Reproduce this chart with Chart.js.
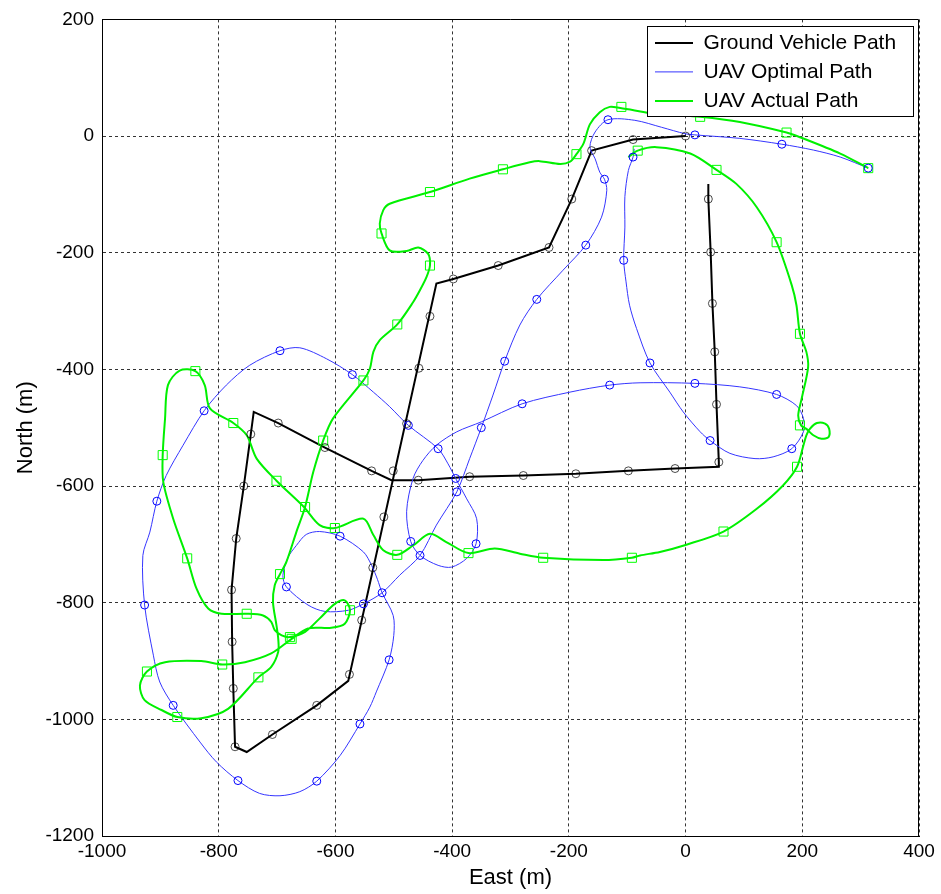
<!DOCTYPE html>
<html>
<head>
<meta charset="utf-8">
<script src="https://cdn.jsdelivr.net/npm/chart.js@4.4.1/dist/chart.umd.min.js"></script>
<style>
  html, body { margin: 0; padding: 0; background: #fff; }
  #wrap { width: 941px; height: 894px; position: relative; }
</style>
</head>
<body>
<div id="wrap"><canvas id="pathChart"></canvas></div>
<script>
// axis ticks (metres)
const eastTicks = [-1000, -800, -600, -400, -200, 0, 200, 400];
const northTicks = [-1200, -1000, -800, -600, -400, -200, 0, 200];

// ground vehicle path
const gvEast  = [0, -90, -161, -195, -234, -321, -398, -427, -578, -632, -708, -752, -772, -775, -777, -778, -770, -757, -745, -740, -698, -618, -538, -504, -458, -370, -278, -188, -98, -18, 57, 57, 53, 50, 46, 43, 39, 39];
const gvNorth = [0, -6, -25, -108, -191, -222, -245, -253, -934, -976, -1026, -1056, -1047, -947, -867, -778, -690, -600, -511, -473, -492, -534, -574, -590, -590, -584, -582, -579, -574, -570, -567, -559, -460, -370, -287, -199, -108, -82];
const gvMarkEast  = [0, -90, -161, -195, -234, -321, -398, -438, -457, -478, -501, -517, -536, -555, -576, -632, -708, -772, -775, -777, -778, -770, -757, -745, -698, -618, -538, -458, -370, -278, -188, -98, -18, 57, 53, 50, 46, 43, 39];
const gvMarkNorth = [0, -6, -25, -108, -191, -222, -245, -309, -398, -493, -574, -653, -740, -830, -923, -976, -1026, -1047, -947, -867, -778, -690, -600, -511, -492, -534, -574, -590, -584, -582, -579, -574, -570, -559, -460, -370, -287, -199, -108];

// UAV optimal path
const optEast  = [313, 265, 219, 165, 93, 16, -1, -41, -87, -133, -155, -164, -155, -147, -139, -135, -144, -171, -210, -255, -284, -310, -330, -350, -370, -392, -427, -455, -490, -520, -552, -578, -618, -647, -684, -690, -681, -667, -650, -627, -592, -552, -538, -528, -520, -501, -500, -508, -530, -541, -558, -592, -632, -661, -695, -730, -767, -804, -832, -878, -901, -912, -927, -930, -918, -906, -890, -861, -825, -787, -747, -695, -661, -615, -571, -535, -507, -475, -424, -407, -394, -375, -358, -359, -375, -401, -424, -455, -471, -478, -467, -450, -427, -392, -350, -280, -198, -130, -78, 16, 93, 156, 190, 202, 202, 182, 150, 119, 76, 42, 25, -4, -27, -61, -84, -96, -102, -106, -104, -104, -98, -90, -88];
const optNorth = [-55, -36, -24, -14, -4, 2, 4, 15, 27, 28, 7, -19, -39, -62, -74, -93, -139, -187, -230, -280, -324, -386, -444, -500, -553, -610, -667, -719, -753, -783, -802, -813, -815, -804, -773, -753, -722, -702, -683, -678, -686, -713, -736, -760, -783, -822, -856, -898, -953, -979, -1008, -1062, -1106, -1124, -1131, -1127, -1105, -1073, -1039, -976, -936, -890, -804, -719, -679, -626, -582, -530, -471, -427, -393, -368, -363, -382, -409, -439, -464, -496, -536, -562, -587, -622, -656, -699, -724, -739, -736, -719, -695, -644, -587, -556, -530, -507, -490, -459, -439, -427, -423, -424, -430, -443, -462, -484, -507, -536, -550, -553, -544, -522, -507, -473, -439, -389, -330, -290, -250, -213, -156, -104, -59, -36, -22];
const optMarkEast  = [313, 165, 16, -133, -139, -171, -255, -310, -350, -392, -455, -520, -552, -684, -592, -508, -558, -632, -767, -878, -927, -906, -825, -695, -571, -475, -424, -394, -359, -471, -280, -130, 16, 156, 182, 42, -61, -106, -90];
const optMarkNorth = [-55, -14, 2, 28, -74, -187, -280, -386, -500, -610, -719, -783, -802, -773, -686, -898, -1008, -1106, -1105, -976, -804, -626, -471, -368, -409, -496, -536, -587, -699, -695, -459, -427, -424, -443, -536, -522, -389, -213, -36];

// UAV actual path
const actEast  = [313, 265, 196, 173, 93, 25, -21, -53, -87, -112, -130, -147, -164, -175, -187, -198, -215, -250, -267, -313, -370, -438, -507, -518, -524, -521, -507, -478, -458, -441, -438, -444, -455, -467, -494, -524, -535, -541, -552, -604, -621, -638, -652, -667, -684, -695, -704, -707, -701, -698, -698, -710, -732, -784, -830, -871, -898, -927, -935, -923, -892, -830, -794, -755, -710, -675, -647, -607, -584, -575, -584, -601, -624, -652, -678, -692, -704, -710, -724, -752, -795, -818, -838, -854, -878, -895, -896, -892, -887, -867, -840, -824, -815, -775, -752, -735, -701, -654, -627, -601, -552, -535, -518, -494, -467, -438, -410, -372, -327, -284, -244, -141, -92, -78, -44, 0, 65, 122, 167, 191, 202, 207, 213, 225, 239, 246, 245, 233, 219, 207, 198, 193, 199, 210, 207, 196, 190, 182, 156, 122, 87, 53, 8, -50, -82, -98];
const actNorth = [-55, -30, -2, 6, 24, 33, 36, 38, 44, 48, 50, 41, 20, -13, -31, -44, -48, -43, -45, -57, -73, -96, -116, -127, -150, -167, -196, -197, -191, -202, -222, -242, -264, -285, -323, -350, -370, -399, -419, -484, -522, -576, -636, -679, -730, -751, -770, -799, -839, -862, -884, -910, -928, -982, -998, -996, -984, -967, -942, -918, -902, -900, -906, -902, -887, -862, -844, -843, -836, -813, -796, -802, -824, -850, -859, -856, -847, -833, -822, -819, -819, -810, -776, -724, -656, -593, -547, -485, -427, -402, -403, -427, -467, -492, -513, -553, -591, -636, -667, -672, -656, -684, -710, -718, -702, -682, -696, -715, -707, -716, -723, -727, -723, -719, -713, -701, -678, -639, -599, -567, -530, -513, -502, -492, -493, -502, -516, -519, -513, -502, -496, -479, -450, -396, -370, -339, -290, -256, -182, -122, -82, -58, -30, -19, -25, -36];
const actMarkEast  = [313, 173, 25, -110, -187, -313, -438, -521, -438, -494, -552, -621, -652, -695, -732, -871, -923, -794, -675, -575, -678, -752, -854, -896, -840, -775, -701, -601, -494, -372, -244, -92, 65, 191, 196, 196, 156, 53, -82];
const actMarkNorth = [-55, 6, 33, 50, -31, -57, -96, -167, -222, -323, -419, -522, -636, -751, -928, -996, -918, -906, -862, -813, -859, -819, -724, -547, -403, -492, -591, -672, -718, -715, -723, -723, -678, -567, -496, -339, -182, -58, -25];

const pts = (xs, ys) => xs.map((x, i) => ({ x: x, y: ys[i] }));
const FONT = "'Liberation Sans', Arial, sans-serif";

function pathSet(label, xs, ys, color, width, tension, order) {
  return {
    label: label, data: pts(xs, ys), showLine: true, borderColor: color,
    backgroundColor: color, borderWidth: width, pointRadius: 0, pointHitRadius: 0,
    tension: tension, order: order, isPath: true
  };
}
function markSet(xs, ys, color, style, radius) {
  return {
    label: '', data: pts(xs, ys), showLine: false, pointStyle: style,
    pointRadius: radius, pointBorderWidth: 1, pointBorderColor: color,
    pointBackgroundColor: 'rgba(0,0,0,0)', order: 0, isPath: false
  };
}

// legend box inside the axes, drawn over the data like MATLAB
const legendBox = {
  id: 'legendBox',
  afterLayout(chart) {
    const lg = chart.legend, a = chart.chartArea;
    lg.left = a.right - 272;
    lg.right = lg.left + lg.width;
    lg.top = a.top + 5;
    lg.bottom = lg.top + 300;
  },
  afterDraw(chart) {
    const ctx = chart.ctx, a = chart.chartArea, lg = chart.legend;
    ctx.save();
    ctx.strokeStyle = '#000';
    ctx.lineWidth = 1;
    ctx.beginPath();
    ctx.moveTo(Math.round(a.left), Math.round(a.top) + 0.5);
    ctx.lineTo(Math.round(a.right) - 0.5, Math.round(a.top) + 0.5);
    ctx.lineTo(Math.round(a.right) - 0.5, Math.round(a.bottom));
    ctx.stroke();
    const hb = lg.legendHitBoxes;
    if (hb && hb.length) {
      const x0 = Math.round(lg.left) + 0.5;
      const y0 = Math.round(hb[0].top - 6) + 0.5;
      const last = hb[hb.length - 1];
      const y1 = Math.round(last.top + last.height + 5) + 0.5;
      const x1 = Math.round(a.right - 6) + 0.5;
      ctx.fillStyle = '#fff';
      ctx.fillRect(x0, y0, x1 - x0, y1 - y0);
      ctx.strokeRect(x0, y0, x1 - x0, y1 - y0);
    }
    ctx.restore();
    lg.draw();
  }
};

new Chart(document.getElementById('pathChart'), {
  type: 'scatter',
  data: {
    datasets: [
      pathSet('Ground Vehicle Path', gvEast, gvNorth, '#000000', 2, 0, 3),
      pathSet('UAV Optimal Path', optEast, optNorth, '#3535ff', 1, 0.3, 2),
      pathSet('UAV Actual Path', actEast, actNorth, '#00f000', 2, 0.3, 1),
      markSet(gvMarkEast, gvMarkNorth, 'rgba(0,0,0,0.7)', 'circle', 4),
      markSet(optMarkEast, optMarkNorth, '#0000ff', 'circle', 4),
      markSet(actMarkEast, actMarkNorth, '#00ff00', 'rect', 6.4)
    ]
  },
  options: {
    responsive: true,
    maintainAspectRatio: false,
    animation: false,
    layout: { padding: { left: 0, top: 18, right: 22, bottom: 0 } },
    plugins: {
      tooltip: { enabled: false },
      legend: {
        position: 'chartArea',
        align: 'start',
        labels: {
          filter: (item, data) => data.datasets[item.datasetIndex].isPath,
          sort: (a, b) => a.datasetIndex - b.datasetIndex,
          usePointStyle: true,
          pointStyle: 'line',
          pointStyleWidth: 38,
          padding: 8,
          color: '#000',
          font: { family: FONT, size: 21 }
        }
      }
    },
    scales: {
      x: {
        type: 'linear',
        min: -1000,
        max: 400,
        afterBuildTicks: s => { s.ticks = eastTicks.map(v => ({ value: v })); },
        afterFit: s => { s.height = 58; },
        ticks: {
          autoSkip: false, maxRotation: 0, padding: 4, color: '#000',
          font: { family: FONT, size: 19 },
          callback: v => String(v)
        },
        grid: { color: '#333', lineWidth: 1, drawTicks: false },
        border: { display: true, color: '#000', width: 1, dash: [3, 3] },
        title: {
          display: true, text: 'East (m)', color: '#000',
          font: { family: FONT, size: 22 }, padding: { top: 0, bottom: 3 }
        }
      },
      y: {
        type: 'linear',
        min: -1200,
        max: 200,
        afterBuildTicks: s => { s.ticks = northTicks.map(v => ({ value: v })); },
        afterFit: s => { s.width = 102; },
        ticks: {
          autoSkip: false, padding: 8, color: '#000',
          font: { family: FONT, size: 19 },
          callback: v => String(v)
        },
        grid: { color: '#333', lineWidth: 1, drawTicks: false },
        border: { display: true, color: '#000', width: 1, dash: [3, 3] },
        title: {
          display: true, text: 'North (m)', color: '#000',
          font: { family: FONT, size: 22 }, padding: { top: 13, bottom: 0 }
        }
      }
    }
  },
  plugins: [legendBox]
});
</script>
</body>
</html>
